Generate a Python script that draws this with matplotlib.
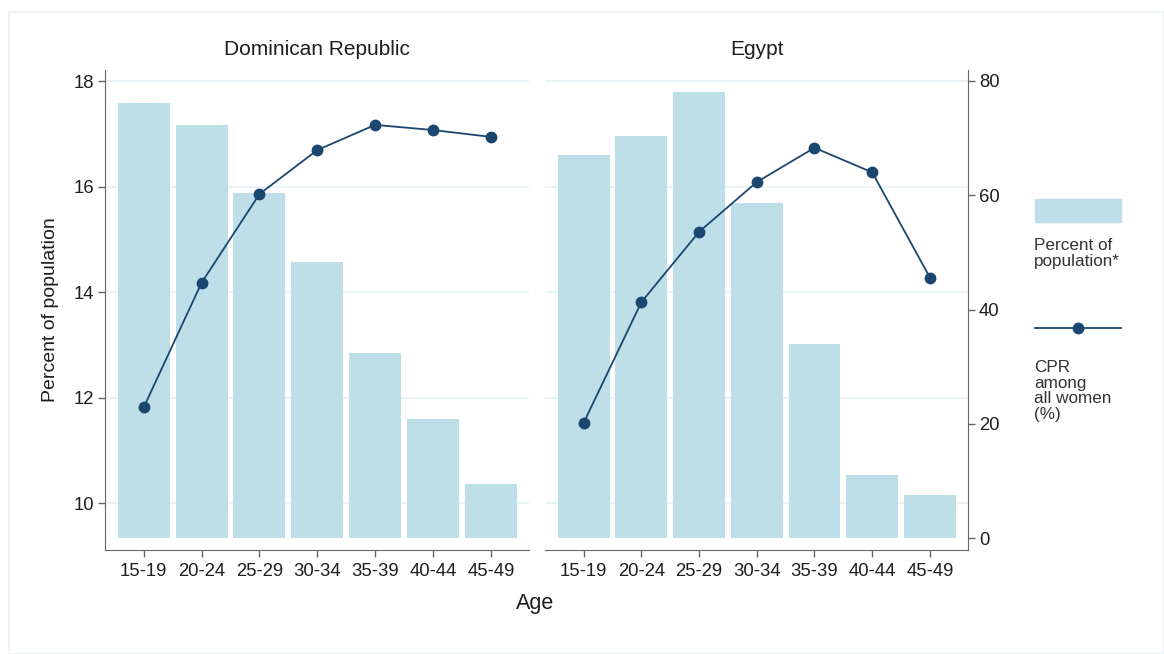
import matplotlib.pyplot as plt
from matplotlib.patches import Rectangle
from matplotlib.lines import Line2D

plt.rcParams['font.family'] = ['Liberation Sans', 'DejaVu Sans']

ages = ['15-19', '20-24', '25-29', '30-34', '35-39', '40-44', '45-49']

# percent of population (left axis)
dr_pop = [17.59, 17.17, 15.87, 14.57, 12.85, 11.59, 10.37]
eg_pop = [16.60, 16.95, 17.80, 15.69, 13.02, 10.54, 10.15]

# CPR among all women, % (right axis)
dr_cpr = [22.9, 44.7, 60.2, 67.9, 72.3, 71.4, 70.2]
eg_cpr = [20.2, 41.3, 53.6, 62.3, 68.3, 64.0, 45.6]

panels = ['Dominican Republic', 'Egypt']

bar_color = '#bedfe8'
line_color = '#1a476f'
spine_color = '#666666'
grid_color = '#eaf3f5'
text_color = '#1e1e1e'
bar_base = 9.33

W, H = 1164, 654
fig = plt.figure(figsize=(W / 100, H / 100), dpi=100)

def px_axes(x0, x1, y0, y1):
    return fig.add_axes([x0 / W, 1 - y1 / H, (x1 - x0) / W, (y1 - y0) / H])

ax_l = px_axes(105, 529, 70, 550)
ax_r = px_axes(545, 968, 70, 550)

x = list(range(len(ages)))
for ax, pop, cpr, title in [(ax_l, dr_pop, dr_cpr, panels[0]), (ax_r, eg_pop, eg_cpr, panels[1])]:
    ax.bar(x, [v - bar_base for v in pop], bottom=bar_base, width=0.9,
           color=bar_color, edgecolor='none', zorder=2)
    ax.set_ylim(9.11, 18.21)
    ax.set_xlim(-0.67, 6.66)
    ax.set_yticks([10, 12, 14, 16, 18])
    ax.grid(axis='y', color=grid_color, linewidth=1.5, zorder=0)
    ax.set_axisbelow(True)
    ax.set_xticks(x)
    ax.set_xticklabels(ages, fontsize=13.3, color=text_color)
    ax.tick_params(axis='x', length=5, width=1, color=spine_color, pad=4)
    ax.set_title(title, fontsize=15, color=text_color, pad=11)
    for s in ['top', 'right']:
        ax.spines[s].set_visible(False)
    ax.spines['bottom'].set_color(spine_color)
    ax.spines['left'].set_color(spine_color)

    tw = ax.twinx()
    tw.plot(x, cpr, color=line_color, linewidth=1.3, marker='o', markersize=7.5, zorder=3)
    tw.set_ylim(-2.05, 81.9)
    tw.set_yticks([0, 20, 40, 60, 80])
    for s in ['top', 'left', 'bottom']:
        tw.spines[s].set_visible(False)
    tw.spines['right'].set_color(spine_color)
    tw.tick_params(axis='y', length=5, width=1, color=spine_color, labelsize=13.3,
                   labelcolor=text_color, pad=3)
    if ax is ax_l:
        tw.spines['right'].set_visible(False)
        tw.set_yticks([])

ax_l.tick_params(axis='y', length=5, width=1, color=spine_color, labelsize=13.3,
                 labelcolor=text_color, pad=3)
ax_l.set_ylabel('Percent of population', fontsize=14, color=text_color, labelpad=10)
ax_r.spines['left'].set_visible(False)
ax_r.tick_params(axis='y', left=False, labelleft=False)

fig.text(535 / W, 1 - 603 / H, 'Age', fontsize=15.5, color=text_color, ha='center', va='center')

# legend on the right
fig.patches.append(Rectangle((1035 / W, 1 - 222 / H), 86 / W, 23 / H,
                             transform=fig.transFigure, color=bar_color))
fig.text(1034 / W, 1 - 238 / H, 'Percent of\npopulation*', fontsize=12.3, color='#333333',
         ha='left', va='top', linespacing=1.08)
fig.lines.append(Line2D([1035 / W, 1121 / W], [1 - 328 / H] * 2, transform=fig.transFigure,
                        color=line_color, linewidth=1.3))
fig.lines.append(Line2D([1078 / W], [1 - 328 / H], transform=fig.transFigure,
                        color=line_color, marker='o', markersize=7.5))
fig.text(1034 / W, 1 - 360 / H, 'CPR\namong\nall women\n(%)', fontsize=12.3, color='#333333',
         ha='left', va='top', linespacing=1.05)

# faint outer frame
fig.patches.append(Rectangle((9 / W, 0), (W - 9) / W, 1 - 12 / H, transform=fig.transFigure,
                             fill=False, edgecolor='#eef3f5', linewidth=1.5))

fig.savefig('out.png', dpi=100)
